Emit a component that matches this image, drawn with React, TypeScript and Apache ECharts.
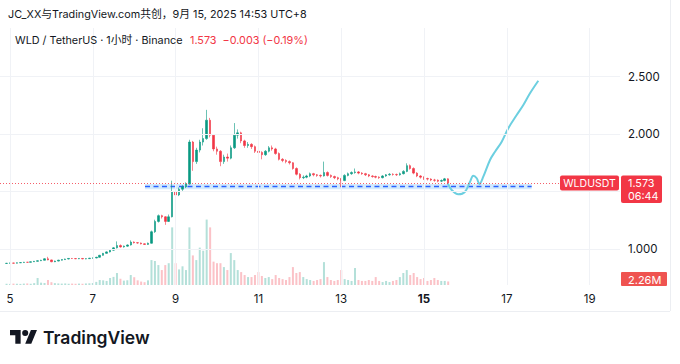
import React, { useEffect, useRef } from 'react';
import * as echarts from 'echarts';

// ---- data ----
const START_DAY = 4 + 22 / 24; // Sep 4, 22:00 (x axis in days of September)
const STEP_DAYS = 2 / 24;
// [open, close, low, high]
const candles: number[][] = [
  [0.874, 0.876, 0.872, 0.879], [0.876, 0.878, 0.874, 0.881], [0.878, 0.877, 0.874, 0.880], [0.877, 0.880, 0.875, 0.883],
  [0.880, 0.882, 0.878, 0.885], [0.882, 0.885, 0.880, 0.888], [0.885, 0.884, 0.881, 0.888], [0.884, 0.889, 0.882, 0.892],
  [0.889, 0.893, 0.887, 0.896], [0.893, 0.898, 0.890, 0.902], [0.898, 0.902, 0.895, 0.906], [0.902, 0.915, 0.900, 0.920],
  [0.915, 0.905, 0.902, 0.932], [0.905, 0.889, 0.885, 0.908], [0.889, 0.895, 0.886, 0.899], [0.895, 0.903, 0.892, 0.906],
  [0.903, 0.908, 0.900, 0.911], [0.908, 0.913, 0.905, 0.916], [0.913, 0.918, 0.910, 0.921], [0.918, 0.917, 0.913, 0.921],
  [0.917, 0.915, 0.912, 0.919], [0.915, 0.918, 0.912, 0.921], [0.918, 0.914, 0.911, 0.920], [0.914, 0.916, 0.911, 0.919],
  [0.916, 0.920, 0.913, 0.923], [0.920, 0.922, 0.917, 0.926], [0.922, 0.928, 0.919, 0.932], [0.928, 0.945, 0.925, 0.949],
  [0.945, 0.962, 0.942, 0.966], [0.962, 0.975, 0.958, 0.980], [0.975, 0.990, 0.970, 0.995], [0.990, 1.010, 0.985, 1.016],
  [1.010, 1.030, 1.005, 1.066], [1.030, 1.018, 1.012, 1.040], [1.018, 1.025, 1.012, 1.030], [1.025, 1.035, 1.020, 1.040],
  [1.035, 1.060, 1.030, 1.075], [1.060, 1.055, 1.048, 1.066], [1.055, 1.052, 1.046, 1.060], [1.052, 1.045, 1.040, 1.056],
  [1.045, 1.040, 1.035, 1.049], [1.040, 1.050, 1.036, 1.056], [1.050, 1.150, 1.046, 1.160], [1.150, 1.240, 1.140, 1.255],
  [1.240, 1.290, 1.230, 1.300], [1.290, 1.280, 1.265, 1.298], [1.280, 1.240, 1.210, 1.285], [1.240, 1.280, 1.235, 1.300],
  [1.280, 1.500, 1.275, 1.594], [1.500, 1.470, 1.426, 1.520], [1.470, 1.520, 1.460, 1.535], [1.520, 1.540, 1.505, 1.555],
  [1.540, 1.565, 1.530, 1.580], [1.565, 1.930, 1.560, 1.950], [1.930, 1.760, 1.680, 1.940], [1.760, 1.860, 1.740, 1.880],
  [1.860, 1.930, 1.840, 1.950], [1.930, 1.960, 1.900, 2.050], [1.960, 2.120, 1.950, 2.210], [2.120, 1.990, 1.970, 2.140],
  [1.990, 1.870, 1.850, 2.000], [1.870, 1.850, 1.820, 1.890], [1.850, 1.760, 1.720, 1.860], [1.760, 1.800, 1.740, 1.820],
  [1.800, 1.790, 1.760, 1.830], [1.790, 1.880, 1.780, 1.900], [1.880, 1.990, 1.870, 2.095], [1.990, 2.010, 1.960, 2.040],
  [2.010, 1.940, 1.920, 2.020], [1.940, 1.900, 1.880, 1.950], [1.900, 1.910, 1.880, 1.930], [1.910, 1.890, 1.870, 1.920],
  [1.890, 1.850, 1.835, 1.900], [1.850, 1.840, 1.820, 1.860], [1.840, 1.820, 1.780, 1.850], [1.820, 1.850, 1.810, 1.860],
  [1.850, 1.880, 1.840, 1.895], [1.880, 1.870, 1.855, 1.900], [1.870, 1.830, 1.820, 1.880], [1.830, 1.780, 1.770, 1.840],
  [1.780, 1.770, 1.755, 1.790], [1.770, 1.760, 1.745, 1.780], [1.760, 1.750, 1.735, 1.770], [1.750, 1.700, 1.690, 1.755],
  [1.700, 1.650, 1.640, 1.710], [1.650, 1.620, 1.605, 1.660], [1.620, 1.625, 1.608, 1.640], [1.625, 1.635, 1.615, 1.645],
  [1.635, 1.655, 1.625, 1.665], [1.655, 1.645, 1.632, 1.662], [1.645, 1.640, 1.628, 1.652], [1.640, 1.635, 1.622, 1.648],
  [1.635, 1.665, 1.630, 1.760], [1.665, 1.640, 1.630, 1.675], [1.640, 1.630, 1.618, 1.648], [1.630, 1.620, 1.608, 1.638],
  [1.620, 1.610, 1.598, 1.628], [1.610, 1.595, 1.540, 1.618], [1.595, 1.640, 1.590, 1.650], [1.640, 1.655, 1.632, 1.665],
  [1.655, 1.665, 1.645, 1.675], [1.665, 1.670, 1.655, 1.700], [1.670, 1.660, 1.650, 1.678], [1.660, 1.655, 1.645, 1.668],
  [1.655, 1.645, 1.635, 1.662], [1.645, 1.635, 1.625, 1.652], [1.635, 1.630, 1.620, 1.642], [1.630, 1.625, 1.615, 1.638],
  [1.625, 1.620, 1.610, 1.632], [1.620, 1.635, 1.614, 1.642], [1.635, 1.645, 1.628, 1.652], [1.645, 1.650, 1.638, 1.660],
  [1.650, 1.648, 1.638, 1.658], [1.648, 1.645, 1.635, 1.656], [1.645, 1.655, 1.638, 1.665], [1.655, 1.675, 1.648, 1.685],
  [1.675, 1.725, 1.668, 1.745], [1.725, 1.700, 1.690, 1.735], [1.700, 1.660, 1.650, 1.710], [1.660, 1.635, 1.625, 1.668],
  [1.635, 1.625, 1.612, 1.642], [1.625, 1.612, 1.600, 1.632], [1.612, 1.608, 1.596, 1.620], [1.608, 1.600, 1.590, 1.615],
  [1.600, 1.598, 1.585, 1.610], [1.598, 1.590, 1.580, 1.605], [1.590, 1.595, 1.582, 1.605], [1.595, 1.610, 1.588, 1.618],
  [1.610, 1.573, 1.565, 1.615],
];
// volume, millions
const volumes: number[] = [
  0.8, 0.7, 0.9, 0.8, 0.7, 0.9, 1.0, 0.8, 1.2, 4.5, 1.5, 1.3, 3.2, 1.8, 1.2, 1.0,
  0.9, 1.0, 0.8, 0.9, 0.8, 0.9, 0.8, 1.0, 1.1, 1.3, 2.0, 3.2, 3.0, 2.6, 4.5, 5.2,
  7.7, 4.0, 2.8, 3.0, 6.4, 5.0, 3.0, 2.2, 1.8, 3.0, 16, 15.4, 12.8, 9.6, 12.8, 14,
  37, 14, 10, 12, 9.6, 37, 19, 16, 24, 22, 42, 37, 15, 14, 14, 11.5,
  9.6, 20.5, 16, 9.6, 8.3, 6.4, 5.1, 5.1, 6.4, 8.3, 5.8, 4.5, 5.1, 3.8, 6.4, 4.5,
  3.8, 3.2, 5.1, 11.5, 7.7, 8.3, 5.1, 3.8, 3.2, 2.6, 3.2, 3.8, 14.7, 5.1, 3.2, 2.6,
  3.2, 9.6, 3.8, 3.2, 2.6, 10.9, 3.2, 2.6, 2.6, 3.2, 2.6, 5.1, 2.6, 1.9, 2.6, 1.9,
  2.6, 3.2, 5.1, 7.7, 9.6, 6.4, 7.7, 5.1, 3.8, 4.5, 2.6, 3.2, 4.5, 3.2, 2.6, 2.6,
  2.26,
];
// projected path [day, price]
const forecast: number[][] = [
  [15.572, 1.571], [15.669, 1.513], [15.829, 1.476], [15.99, 1.498], [16.111, 1.585],
  [16.19, 1.637], [16.273, 1.615], [16.336, 1.565], [16.432, 1.629], [16.594, 1.774],
  [16.715, 1.846], [16.877, 1.933], [17.036, 2.05], [17.239, 2.165], [17.399, 2.252],
  [17.56, 2.354], [17.761, 2.463],
];
const supportLevel = 1.543;
const supportBand = [1.519, 1.565];
const supportRange = [8.26, 17.6];
const lastPrice = 1.573;
const lastVolume = 2.26;
const countdown = '06:44';
const dayTicks = [5, 7, 9, 11, 13, 15, 17, 19];
const priceTickLabels = [1.0, 2.0, 2.5];
const priceGridLevels = [1.0, 1.5, 2.0, 2.5];
const X_MIN = 4.758;
const X_MAX = 19.734;

const UP = '#089981';
const DOWN = '#f23645';
const TEXT = '#131722';
const FONT = "Inter, 'Noto Sans CJK SC', 'Noto Sans', sans-serif";
const HEADER_SIZE = 10.8;
const LOGO_D = 'M14 22H7V11H0V4h14v18zM28 22h-8l7.5-18h8L28 22zM24 8a4 4 0 1 1 -8 0a4 4 0 1 1 8 0z';

let logoRegistered = false;
function ensureLogo() {
  if (logoRegistered) return;
  echarts.graphic.registerShape('tvlogo', echarts.graphic.extendPath(LOGO_D, {}) as any);
  logoRegistered = true;
}

export default function App() {
  const ref = useRef<HTMLDivElement>(null);
  useEffect(() => {
    if (!ref.current) return;
    ensureLogo();
    const chart = echarts.init(ref.current, null, { renderer: 'svg' });
    const candleData = candles.map((c, i) => [START_DAY + i * STEP_DAYS, c[0], c[1], c[2], c[3]]);
    const volData = volumes.map((v, i) => ({
      value: [START_DAY + i * STEP_DAYS, v],
      itemStyle: { color: candles[i][1] >= candles[i][0] ? 'rgba(8,153,129,0.3)' : 'rgba(242,54,69,0.3)' },
    }));
    chart.setOption({
      animation: false,
      backgroundColor: '#ffffff',
      textStyle: { fontFamily: FONT },
      grid: [
        { left: 0, right: 60, top: 19, bottom: 57.5, outerBoundsMode: 'none' },
        { left: 0, right: 60, top: 28, bottom: 79, outerBoundsMode: 'none' },
      ],
      xAxis: [
        { type: 'value', gridIndex: 0, min: X_MIN, max: X_MAX, show: false, splitLine: { show: false } },
        {
          type: 'value', gridIndex: 1, min: X_MIN, max: X_MAX,
          axisLine: { show: false }, axisTick: { show: false, customValues: dayTicks }, splitLine: { show: false },
          axisLabel: {
            customValues: dayTicks, color: TEXT, fontSize: 11.5, margin: 8, fontFamily: FONT,
            formatter: (v: number) => (Math.round(v) === 15 ? '{b|15}' : String(Math.round(v))),
            rich: { b: { fontWeight: 'bold', fontSize: 11.5, color: TEXT, fontFamily: FONT } },
          },
        },
      ],
      yAxis: [
        {
          type: 'value', gridIndex: 0, position: 'right', min: 0.5, max: 3.0, interval: 0.5,
          axisLine: { show: false }, axisTick: { show: false }, splitLine: { show: false },
          axisLabel: {
            color: TEXT, fontSize: 11.5, margin: 8, fontFamily: FONT,
            formatter: (v: number) => (priceTickLabels.some((p) => Math.abs(p - v) < 1e-6) ? v.toFixed(3) : ''),
          },
        },
        { type: 'value', gridIndex: 1, min: 0, max: 165, show: false, splitLine: { show: false } },
      ],
      series: [
        {
          type: 'line', xAxisIndex: 0, yAxisIndex: 0, data: [], z: 0, silent: true,
          markLine: {
            silent: true, symbol: ['none', 'none'], label: { show: false },
            lineStyle: { color: '#f0f2f6', width: 1, type: 'solid' },
            data: priceGridLevels.map((p) => ({ yAxis: p })),
          },
        },
        {
          type: 'line', xAxisIndex: 1, yAxisIndex: 1, data: [], z: 0, silent: true,
          markLine: {
            silent: true, symbol: ['none', 'none'], label: { show: false },
            lineStyle: { color: '#f0f2f6', width: 1, type: 'solid' },
            data: dayTicks.map((d) => ({ xAxis: d })),
          },
        },
        {
          type: 'bar', xAxisIndex: 1, yAxisIndex: 1, data: volData, barWidth: 2, z: 1, silent: true,
        },
        {
          type: 'line', xAxisIndex: 0, yAxisIndex: 0, z: 2, silent: true, symbol: 'none',
          data: [[supportRange[0], supportLevel], [supportRange[1], supportLevel]],
          lineStyle: { color: '#2962ff', width: 1.5, type: [5, 3.5] },
          markArea: {
            silent: true,
            itemStyle: { color: 'rgba(33,150,243,0.2)' },
            data: [[{ xAxis: supportRange[0], yAxis: supportBand[1] }, { xAxis: supportRange[1], yAxis: supportBand[0] }]],
          },
        },
        {
          type: 'candlestick', xAxisIndex: 0, yAxisIndex: 0, z: 3, silent: true,
          data: candleData, encode: { x: 0, y: [1, 2, 3, 4] }, barWidth: 2,
          itemStyle: { color: UP, color0: DOWN, borderColor: UP, borderColor0: DOWN, borderWidth: 0.6 },
          markLine: {
            silent: true, symbol: ['none', 'none'], label: { show: false },
            lineStyle: { color: DOWN, width: 1, type: [1, 2], opacity: 0.8 },
            data: [{ yAxis: lastPrice }],
          },
        },
        {
          type: 'line', xAxisIndex: 0, yAxisIndex: 0, z: 4, silent: true, symbol: 'none', smooth: 0.35,
          data: forecast, lineStyle: { color: '#6ccfe0', width: 2 },
        },
      ],
    });

    const yPrice = chart.convertToPixel({ yAxisIndex: 0 }, lastPrice) as number;
    const yVolRaw = chart.convertToPixel({ yAxisIndex: 1 }, lastVolume) as number;
    const volBottom = chart.convertToPixel({ yAxisIndex: 1 }, 0) as number;
    const yVol = Math.min(yVolRaw, volBottom - 6);
    const xRight = chart.convertToPixel({ xAxisIndex: 0 }, X_MAX) as number;

    chart.setOption({
      graphic: [
        { type: 'text', x: 8, y: 14, z: 100, style: { text: 'JC_XX与TradingView.com共创，9月 15, 2025 14:53 UTC+8', fill: TEXT, fontSize: HEADER_SIZE, fontFamily: FONT, verticalAlign: 'middle' } },
        { type: 'text', x: 15, y: 40, z: 100, style: { text: 'WLD / TetherUS · 1小时 · Binance', fill: TEXT, fontSize: HEADER_SIZE, fontFamily: FONT, verticalAlign: 'middle' } },
        { type: 'text', x: 190, y: 40, z: 100, style: { text: '1.573  −0.003 (−0.19%)', fill: DOWN, fontSize: HEADER_SIZE, fontFamily: FONT, verticalAlign: 'middle' } },
        // price tags
        { type: 'rect', z: 100, shape: { x: xRight - 60, y: yPrice - 7.5, width: 59, height: 15, r: 2 }, style: { fill: DOWN } },
        { type: 'text', z: 101, x: xRight - 30.5, y: yPrice, style: { text: 'WLDUSDT', fill: '#ffffff', fontSize: 10.5, fontFamily: FONT, align: 'center', verticalAlign: 'middle' } },
        { type: 'rect', z: 100, shape: { x: xRight + 1, y: yPrice - 7.5, width: 41, height: 27.5, r: 2 }, style: { fill: DOWN } },
        { type: 'text', z: 101, x: xRight + 8, y: yPrice + 0.5, style: { text: lastPrice.toFixed(3), fill: '#ffffff', fontSize: 10.8, fontFamily: FONT, verticalAlign: 'middle' } },
        { type: 'text', z: 101, x: xRight + 8, y: yPrice + 13, style: { text: countdown, fill: '#ffffff', fontSize: 10.8, fontFamily: FONT, verticalAlign: 'middle' } },
        { type: 'rect', z: 100, shape: { x: xRight + 1, y: yVol - 7, width: 46, height: 14, r: 1 }, style: { fill: '#ef5350' } },
        { type: 'text', z: 101, x: xRight + 8, y: yVol + 0.5, style: { text: lastVolume.toFixed(2) + 'M', fill: '#ffffff', fontSize: 11, fontFamily: FONT, verticalAlign: 'middle' } },
        // frame
        { type: 'line', z: 50, shape: { x1: 670.5, y1: 0, x2: 670.5, y2: 311 }, style: { stroke: '#eceef2', lineWidth: 1 } },
        { type: 'line', z: 50, shape: { x1: 0, y1: 311.5, x2: 670, y2: 311.5 }, style: { stroke: '#eceef2', lineWidth: 1 } },
        // logo
        { type: 'tvlogo', z: 100, x: 10, y: 327, scaleX: 0.76, scaleY: 0.76, style: { fill: TEXT } },
        { type: 'text', z: 100, x: 43, y: 337, style: { text: 'TradingView', fill: TEXT, fontSize: 17.5, fontWeight: 600, fontFamily: FONT, verticalAlign: 'middle' } },
      ],
    });

    return () => chart.dispose();
  }, []);
  return <div ref={ref} style={{ position: 'absolute', left: 0, top: 0, width: 680, height: 364 }} />;
}
